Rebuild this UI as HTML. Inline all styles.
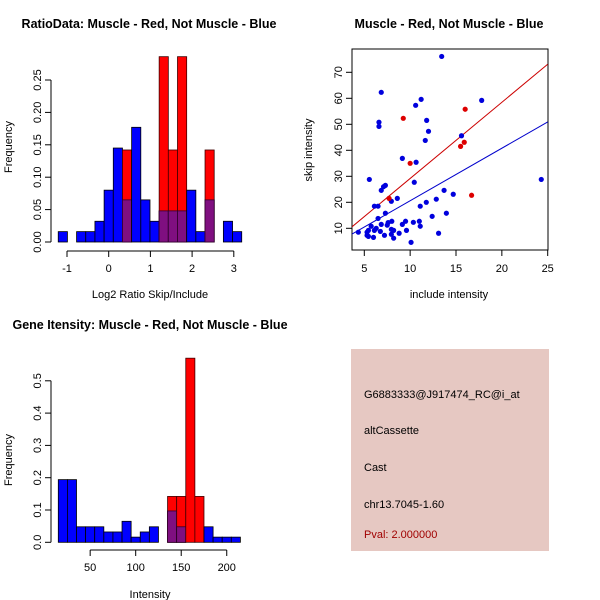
<!DOCTYPE html>
<html><head><meta charset="utf-8"><style>
body{margin:0;background:#fff}
svg{display:block;font-family:"Liberation Sans",sans-serif}
.t{font-weight:bold;font-size:12.5px}
.l{font-size:11px}
</style></head><body>
<svg id="s" width="600" height="600" xmlns="http://www.w3.org/2000/svg">
<rect width="600" height="600" fill="#fff"/>
<text class="t" x="149" y="28" text-anchor="middle">RatioData: Muscle - Red, Not Muscle - Blue</text>
<text class="t" x="449" y="28" text-anchor="middle">Muscle - Red, Not Muscle - Blue</text>
<text class="t" x="150" y="329" text-anchor="middle">Gene Itensity: Muscle - Red, Not Muscle - Blue</text>
<text class="l" x="150" y="298" text-anchor="middle">Log2 Ratio Skip/Include</text>
<text class="l" x="449" y="298" text-anchor="middle">include intensity</text>
<text class="l" x="150" y="598" text-anchor="middle">Intensity</text>
<text class="l" transform="translate(12,147) rotate(-90)" text-anchor="middle">Frequency</text>
<text class="l" transform="translate(312,150) rotate(-90)" text-anchor="middle">skip intensity</text>
<text class="l" transform="translate(12,460) rotate(-90)" text-anchor="middle">Frequency</text>
<g id="h1"></g>
<g id="sc"></g>
<g id="h2"></g>
<rect x="351" y="349" width="198" height="202" fill="#e6c8c2"/>
<g font-size="11px">
<text x="364" y="398">G6883333@J917474_RC@i_at</text>
<text x="364" y="434">altCassette</text>
<text x="364" y="471">Cast</text>
<text x="364" y="508">chr13.7045-1.60</text>
<text x="364" y="538" fill="#a00000">Pval: 2.000000</text>
</g>
</svg>
<script>
// Ratio histogram
const h1Start = -1.21, h1Width = 0.22;
const h1Blue = [0.016,0,0.016,0.016,0.032,0.08,0.145,0.065,0.177,0.065,0.032,0.048,0.048,0.048,0.08,0.016,0.065,0,0.032,0.016];
const h1Red  = [0,0,0,0,0,0,0,0.142,0,0,0,0.286,0.142,0.286,0,0,0.142,0,0,0];
const h1XTicks = [-1,0,1,2,3];
const h1YTicks = [0,0.05,0.10,0.15,0.20,0.25];
const h1YLabels = ["0.00","0.05","0.10","0.15","0.20","0.25"];
// Intensity histogram
const h2Start = 15, h2Width = 10;
const h2Blue = [0.194,0.194,0.048,0.048,0.048,0.032,0.032,0.065,0.016,0.032,0.048,0,0.097,0.048,0,0,0.048,0.016,0.016,0.016];
const h2Red  = [0,0,0,0,0,0,0,0,0,0,0,0,0.142,0.142,0.57,0.142,0,0,0,0];
const h2XTicks = [50,100,150,200];
const h2YTicks = [0,0.1,0.2,0.3,0.4,0.5];
const h2YLabels = ["0.0","0.1","0.2","0.3","0.4","0.5"];
// Scatter
const blueX = [13.44,6.85,17.8,11.2,10.6,6.6,6.6,11.8,12.0,11.65,15.6,9.15,10.65,5.55,24.3,10.45,7.3,7.1,6.85,13.7,14.7,8.6,7.95,12.85,11.76,11.1,6.1,6.5,13.95,7.3,12.4,6.5,7.6,8.0,9.5,10.35,11.0,6.85,7.5,9.15,11.1,5.75,6.3,7.95,5.45,6.1,6.75,8.2,9.6,4.35,5.3,8.8,13.1,5.3,7.2,7.95,6.0,5.45,8.2,10.1];
const blueY = [76.1,62.3,59.2,59.6,57.3,50.8,49.2,51.5,47.3,43.8,45.6,36.9,35.4,28.8,28.8,27.7,26.5,26.0,24.6,24.6,23.1,21.5,20.4,21.2,20.0,18.5,18.5,18.5,15.8,15.8,14.6,13.8,12.2,12.7,12.7,12.3,12.7,11.5,11.2,11.5,10.8,10.8,10.0,9.6,9.2,9.2,8.8,9.2,9.2,8.5,8.5,8.1,8.1,7.3,7.3,7.7,6.5,6.9,6.2,4.6];
const redX = [9.25,16.0,10.0,15.5,15.9,16.7,7.7];
const redY = [52.3,55.8,35.0,41.5,43.1,22.7,21.5];
const redFit = [-0.14,2.93];
const blueFit = [0.4,2.02];
const scXTicks = [5,10,15,20,25];
const scYTicks = [10,20,30,40,50,60,70];

const NS="http://www.w3.org/2000/svg";
function mk(parent,tag,attrs){const e=document.createElementNS(NS,tag);for(const k in attrs)e.setAttribute(k,attrs[k]);parent.appendChild(e);return e;}

function hist(g,start,w,blue,red,xt,yt,yl,xs,ys,xAxisY,yAxisX,fs){
  for(let i=0;i<blue.length;i++){
    const x0=xs(start+i*w),x1=xs(start+(i+1)*w);
    const b=blue[i],r=red[i];
    if(b>0){const e=mk(g,'rect',{x:x0,y:ys(b),width:x1-x0,height:ys(0)-ys(b),fill:'#0000ff',stroke:'#000','stroke-width':0.8});
      
      }
    if(r>0){const e=mk(g,'rect',{x:x0,y:ys(r),width:x1-x0,height:ys(0)-ys(r),fill:'#ff0000',stroke:'#400000','stroke-width':0.8});
      
      }
    const m=Math.min(b,r);
    if(m>0){const e=mk(g,'rect',{x:x0,y:ys(m),width:x1-x0,height:ys(0)-ys(m),fill:'#7f0f80',stroke:'#300030','stroke-width':0.8});
      
      }
  }
  mk(g,'line',{x1:xs(xt[0]),x2:xs(xt[xt.length-1]),y1:xAxisY,y2:xAxisY,stroke:'#000'});
  xt.forEach(v=>{mk(g,'line',{x1:xs(v),x2:xs(v),y1:xAxisY,y2:xAxisY+6,stroke:'#000'});
    const t=mk(g,'text',{x:xs(v),y:xAxisY+21,'text-anchor':'middle','font-size':fs});t.textContent=v;
    
    });
  mk(g,'line',{x1:yAxisX,x2:yAxisX,y1:ys(yt[0]),y2:ys(yt[yt.length-1]),stroke:'#000'});
  yt.forEach((v,i)=>{mk(g,'line',{x1:yAxisX-6,x2:yAxisX,y1:ys(v),y2:ys(v),stroke:'#000'});
    const t=mk(g,'text',{'text-anchor':'middle','font-size':fs,transform:`translate(${yAxisX-10},${ys(v)}) rotate(-90)`});t.textContent=yl[i];
    
    });
}
hist(document.getElementById('h1'),h1Start,h1Width,h1Blue,h1Red,h1XTicks,h1YTicks,h1YLabels,
  v=>108.7+v*41.7, v=>242-v*648, 251, 51, '11px');
hist(document.getElementById('h2'),h2Start,h2Width,h2Blue,h2Red,h2XTicks,h2YTicks,h2YLabels,
  v=>58.3+(v-15)*0.9105, v=>542.3-v*323, 550, 51, '11px');

// scatter
const g=document.getElementById('sc');
const sx=v=>364.3+(v-5)*9.17, sy=v=>228.3-(v-10)*2.6;
mk(g,'rect',{x:352,y:49,width:196,height:201,fill:'none',stroke:'#000'});
const cp=mk(g,'clipPath',{id:'cp'});mk(cp,'rect',{x:352,y:49,width:196,height:201});
const fits=[[redFit,'#cc0000'],[blueFit,'#0000cc']];
fits.forEach(([f,c])=>{const x0=3.6,x1=25;const l=mk(g,'line',{x1:sx(x0),y1:sy(f[0]+f[1]*x0),x2:sx(x1),y2:sy(f[0]+f[1]*x1),stroke:c,'clip-path':'url(#cp)'});
  
  });
blueX.forEach((v,i)=>{const c=mk(g,'circle',{cx:sx(v),cy:sy(blueY[i]),r:2.6,fill:'#0000dd'});
  
  });
redX.forEach((v,i)=>{const c=mk(g,'circle',{cx:sx(v),cy:sy(redY[i]),r:2.6,fill:'#dd0000'});
  
  });
scXTicks.forEach(v=>{mk(g,'line',{x1:sx(v),x2:sx(v),y1:250,y2:256,stroke:'#000'});
  const t=mk(g,'text',{x:sx(v),y:272,'text-anchor':'middle','font-size':'11px'});t.textContent=v;
  
  });
scYTicks.forEach(v=>{mk(g,'line',{x1:346,x2:352,y1:sy(v),y2:sy(v),stroke:'#000'});
  const t=mk(g,'text',{'text-anchor':'middle','font-size':'11px',transform:`translate(342,${sy(v)}) rotate(-90)`});t.textContent=v;
  
  });
</script>
</body></html>
